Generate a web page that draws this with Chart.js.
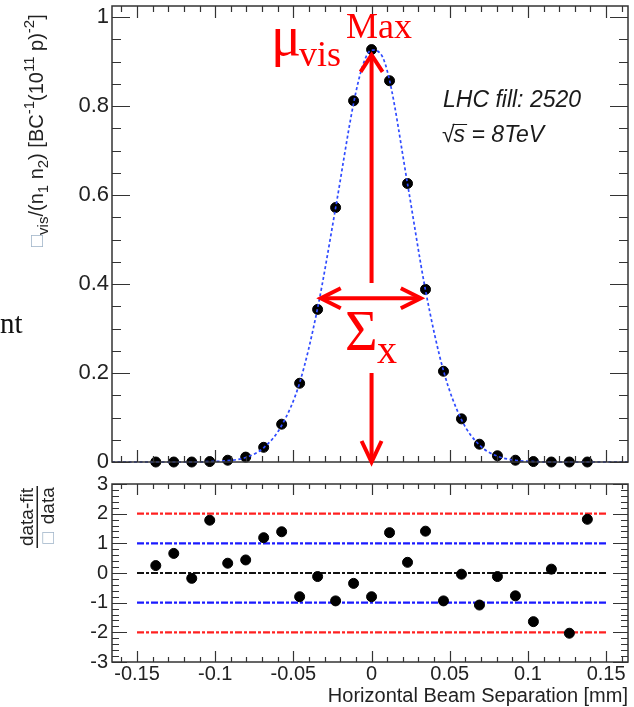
<!DOCTYPE html>
<html>
<head>
<meta charset="utf-8">
<script src="https://cdn.jsdelivr.net/npm/chart.js@4.4.0/dist/chart.umd.min.js"></script>
<style>
  html, body { margin: 0; padding: 0; background: #fff; }
  #wrap { position: relative; width: 634px; height: 707px; overflow: hidden; }
  #top { position: absolute; left: 0; top: 0; }
  #bot { position: absolute; left: 0; top: 475px; }
</style>
</head>
<body>
<div id="wrap">
  <canvas id="top" width="634" height="475"></canvas>
  <canvas id="bot" width="634" height="232"></canvas>
</div>
<script>
// scan points (horizontal beam separation, mm)
const sepX = [-0.138, -0.1265, -0.115, -0.1035, -0.092, -0.0805, -0.069, -0.0575, -0.046, -0.0345,
  -0.023, -0.0115, 0, 0.0115, 0.023, 0.0345, 0.046, 0.0575, 0.069, 0.0805, 0.092, 0.1035, 0.115, 0.1265, 0.138];
// specific visible rate per scan point
const rateY = [0, 0, 0, 0.001, 0.004, 0.011, 0.033, 0.085, 0.177, 0.343, 0.572, 0.812, 0.927,
  0.857, 0.626, 0.388, 0.204, 0.097, 0.040, 0.014, 0.004, 0.001, 0, 0, 0];
// fit curve
const fitX = [-0.166, -0.138, -0.115, -0.1035, -0.092, -0.0805, -0.069, -0.0575, -0.046, -0.0345, -0.023,
  -0.0115, -0.00575, 0, 0.00575, 0.0115, 0.023, 0.0345, 0.046, 0.0575, 0.069, 0.0805, 0.092, 0.1035, 0.115, 0.164];
const fitY = [0, 0, 0, 0.001, 0.003, 0.010, 0.032, 0.082, 0.178, 0.346, 0.571,
  0.806, 0.89, 0.926, 0.918, 0.858, 0.625, 0.386, 0.205, 0.095, 0.038, 0.013, 0.004, 0.001, 0, 0];
// residuals (data-fit)/sigma
const residY = [0.25, 0.66, -0.18, 1.78, 0.33, 0.44, 1.19, 1.39, -0.80, -0.12, -0.94, -0.35, -0.80,
  1.36, 0.36, 1.41, -0.94, -0.04, -1.08, -0.12, -0.77, -1.64, 0.13, -2.03, 1.81];
// reference lines in the residual pad
const refLevels = [2, 1, 0, -1, -2];
const refColors = ['#ff2020', '#1a1aff', '#111111', '#1a1aff', '#ff2020'];
const refSpan = [-0.15, 0.15];

const xTicks = [-0.15, -0.1, -0.05, 0, 0.05, 0.1, 0.15];
const yTicksTop = [0, 0.2, 0.4, 0.6, 0.8, 1];
const yTicksBot = [-3, -2, -1, 0, 1, 2, 3];

const SANS = "'Liberation Sans', Arial, sans-serif";
const SERIF = "'Liberation Serif', 'Times New Roman', serif";
const INK = '#222';
const RED = '#ff0000';

const range = (a, b, s) => {
  const out = [];
  const n = Math.round((b - a) / s);
  for (let i = 0; i <= n; i++) out.push(+(a + i * s).toFixed(4));
  return out;
};
const fmt = v => String(+v.toFixed(2));

// ROOT style frame with inward ticks on all four sides
const frameTicks = {
  id: 'frameTicks',
  afterDatasetsDraw(chart, args, o) {
    const { ctx, chartArea: a, scales: { x, y } } = chart;
    ctx.save();
    ctx.strokeStyle = '#333';
    ctx.lineWidth = 1.2;
    ctx.beginPath();
    const tx = (vals, len) => vals.forEach(v => {
      const p = Math.round(x.getPixelForValue(v)) + 0.5;
      if (p < a.left || p > a.right) return;
      ctx.moveTo(p, a.bottom); ctx.lineTo(p, a.bottom - len);
      ctx.moveTo(p, a.top); ctx.lineTo(p, a.top + len);
    });
    const ty = (vals, len) => vals.forEach(v => {
      const p = Math.round(y.getPixelForValue(v)) + 0.5;
      if (p < a.top - 1 || p > a.bottom + 1) return;
      ctx.moveTo(a.left, p); ctx.lineTo(a.left + len, p);
      ctx.moveTo(a.right, p); ctx.lineTo(a.right - len, p);
    });
    tx(o.xMinor, o.xLen[1]); tx(o.xMajor, o.xLen[0]);
    ty(o.yMinor, o.yLen[1]); ty(o.yMajor, o.yLen[0]);
    ctx.stroke();
    ctx.lineWidth = 1.5;
    ctx.strokeRect(a.left, a.top, a.right - a.left, a.bottom - a.top);
    ctx.restore();
  }
};

// draws a run of [text, shift, size, color] pieces along a rotated baseline
function rotatedRun(ctx, x, y, pieces) {
  ctx.save();
  ctx.translate(x, y);
  ctx.rotate(-Math.PI / 2);
  ctx.textBaseline = 'alphabetic';
  ctx.textAlign = 'left';
  let pos = 0;
  pieces.forEach(([t, dy, size, color]) => {
    ctx.font = size + 'px ' + SANS;
    ctx.fillStyle = color || INK;
    ctx.fillText(t, pos, dy);
    pos += ctx.measureText(t).width;
  });
  ctx.restore();
}

function arrowHead(ctx, tx, ty, dx, dy, len, half) {
  // tip at (tx,ty), pointing along (dx,dy)
  const px = -dy, py = dx;
  ctx.beginPath();
  ctx.moveTo(tx - dx * len + px * half, ty - dy * len + py * half);
  ctx.lineTo(tx, ty);
  ctx.lineTo(tx - dx * len - px * half, ty - dy * len - py * half);
  ctx.stroke();
}

const topNotes = {
  id: 'topNotes',
  afterDraw(chart) {
    const { ctx, scales: { x, y } } = chart;
    ctx.save();
    // red arrows
    ctx.strokeStyle = RED;
    ctx.lineWidth = 4;
    ctx.lineCap = 'butt';
    ctx.lineJoin = 'miter';
    const cx = x.getPixelForValue(0);
    const yTop = y.getPixelForValue(0.915);
    const yBot = y.getPixelForValue(0);
    ctx.beginPath();
    ctx.moveTo(cx, yTop + 2); ctx.lineTo(cx, 283);
    ctx.moveTo(cx, 373); ctx.lineTo(cx, yBot - 2);
    ctx.stroke();
    arrowHead(ctx, cx, yTop, 0, -1, 17, 11);
    arrowHead(ctx, cx, yBot, 0, 1, 21, 10);
    const hy = y.getPixelForValue(0.368);
    const hl = x.getPixelForValue(-0.0325), hr = x.getPixelForValue(0.0315);
    ctx.beginPath();
    ctx.moveTo(hl + 2, hy); ctx.lineTo(hr - 2, hy);
    ctx.stroke();
    arrowHead(ctx, hl, hy, -1, 0, 20, 10);
    arrowHead(ctx, hr, hy, 1, 0, 20, 10);

    // red labels
    ctx.fillStyle = RED;
    ctx.textBaseline = 'alphabetic';
    ctx.textAlign = 'left';
    ctx.font = '36px ' + SERIF;
    ctx.fillText('Max', 346, 38);
    ctx.font = '56px ' + SERIF;
    ctx.fillText('\u03bc', 271, 55);
    ctx.font = '36px ' + SERIF;
    ctx.fillText('vis', 299, 66);
    ctx.font = '56px ' + SERIF;
    ctx.fillText('\u03a3', 345, 350);
    ctx.font = '40px ' + SERIF;
    ctx.fillText('x', 377, 363);

    // fill info
    ctx.fillStyle = '#1a1a1a';
    ctx.font = 'italic 23px ' + SANS;
    ctx.fillText('LHC fill: 2520', 443, 107);
    ctx.font = '23px ' + SANS;
    ctx.fillText('\u221a', 442, 142);
    const rw = ctx.measureText('\u221a').width;
    ctx.font = 'italic 23px ' + SANS;
    ctx.fillText('s = 8TeV', 442 + rw - 1, 142);
    const sw = ctx.measureText('s').width;
    ctx.strokeStyle = '#1a1a1a';
    ctx.lineWidth = 1;
    ctx.beginPath();
    ctx.moveTo(442 + rw - 2, 124.5); ctx.lineTo(442 + rw + sw + 1, 124.5);
    ctx.stroke();

    // y axis title
    rotatedRun(ctx, 43, 247, [
      ['\u25a1', 0, 20, '#9fb4c8'], ['vis', 5, 15], ['/(n', 0, 20], ['1', 5, 15], [' n', 0, 20], ['2', 5, 15],
      [') [BC', 0, 20], ['-1', -9, 15], ['(10', 0, 20], ['11', -9, 15], [' p)', 0, 20], ['-2', -9, 15], [']', 0, 20]
    ]);

    // cut-off text from the surrounding page
    ctx.fillStyle = '#111';
    ctx.font = '29px ' + SERIF;
    ctx.fillText('nt', 0, 333);
    ctx.restore();
  }
};

const botNotes = {
  id: 'botNotes',
  afterDraw(chart) {
    const { ctx, chartArea: a } = chart;
    ctx.save();
    ctx.fillStyle = INK;
    ctx.font = '20px ' + SANS;
    ctx.textAlign = 'right';
    ctx.textBaseline = 'alphabetic';
    ctx.fillText('Horizontal Beam Separation [mm]', a.right, 227);
    // y title as a fraction
    ctx.save();
    ctx.rotate(-Math.PI / 2);
    ctx.textAlign = 'center';
    ctx.font = '19px ' + SANS;
    ctx.fillText('data-fit', -42, 33);
    ctx.fillText('\u00a0\u00a0data', -36, 54);
    ctx.fillStyle = '#9fb4c8';
    ctx.fillText('\u25a1', -63, 54);
    ctx.fillStyle = INK;
    ctx.fillRect(-73, 36.5, 62, 1.5);
    ctx.restore();
    ctx.restore();
  }
};

const baseFont = { family: SANS, size: 22 };

new Chart(document.getElementById('top'), {
  type: 'scatter',
  data: {
    datasets: [
      {
        label: 'fit',
        data: fitX.map((v, i) => ({ x: v, y: fitY[i] })),
        showLine: true,
        borderColor: '#2f4bff',
        borderWidth: 1.7,
        borderDash: [3, 2.5],
        pointRadius: 0,
        cubicInterpolationMode: 'monotone',
        clip: 10,
        order: 0
      },
      {
        label: 'data',
        data: sepX.map((v, i) => ({ x: v, y: rateY[i] })),
        backgroundColor: '#000',
        borderColor: '#000',
        pointRadius: 5,
        clip: 10,
        order: 1
      }
    ]
  },
  options: {
    responsive: false,
    animation: false,
    events: [],
    layout: { padding: { left: 0, right: 4, top: 6, bottom: 0 } },
    plugins: {
      legend: { display: false },
      tooltip: { enabled: false },
      frameTicks: {
        xMajor: xTicks, xMinor: range(-0.16, 0.16, 0.01), xLen: [12, 6],
        yMajor: yTicksTop, yMinor: range(0, 1, 0.05), yLen: [18, 9]
      }
    },
    scales: {
      x: {
        type: 'linear', min: -0.166, max: 0.164,
        grid: { display: false }, border: { display: false },
        ticks: { display: false },
        afterFit: s => { s.height = 13; s.paddingLeft = 0; s.paddingRight = 0; }
      },
      y: {
        min: 0, max: 1.025,
        grid: { display: false, drawTicks: false }, border: { display: false },
        afterBuildTicks: s => { s.ticks = yTicksTop.map(v => ({ value: v })); },
        ticks: { color: INK, font: baseFont, padding: 3, callback: fmt },
        afterFit: s => { s.width = 112; s.paddingTop = 0; s.paddingBottom = 0; }
      }
    }
  },
  plugins: [frameTicks, topNotes]
});

new Chart(document.getElementById('bot'), {
  type: 'scatter',
  data: {
    datasets: refLevels.map((lv, i) => ({
      label: 'ref' + lv,
      data: refSpan.map(v => ({ x: v, y: lv })),
      showLine: true,
      borderColor: refColors[i],
      borderWidth: 2.2,
      borderDash: [7, 2, 3, 2],
      pointRadius: 0,
      order: 1
    })).concat([{
      label: 'residual',
      data: sepX.map((v, i) => ({ x: v, y: residY[i] })),
      backgroundColor: '#000',
      borderColor: '#000',
      pointRadius: 5,
      clip: 10,
      order: 0
    }])
  },
  options: {
    responsive: false,
    animation: false,
    events: [],
    layout: { padding: { left: 0, right: 4, top: 9, bottom: 0 } },
    plugins: {
      legend: { display: false },
      tooltip: { enabled: false },
      frameTicks: {
        xMajor: xTicks, xMinor: range(-0.16, 0.16, 0.01), xLen: [11, 5],
        yMajor: yTicksBot, yMinor: range(-3, 3, 0.2), yLen: [15, 7]
      }
    },
    scales: {
      x: {
        type: 'linear', min: -0.166, max: 0.164,
        grid: { display: false, drawTicks: false }, border: { display: false },
        afterBuildTicks: s => { s.ticks = xTicks.map(v => ({ value: v })); },
        ticks: { color: INK, font: { family: SANS, size: 20 }, padding: 0, maxRotation: 0, autoSkip: false, callback: fmt },
        afterFit: s => { s.height = 45; s.paddingLeft = 0; s.paddingRight = 0; }
      },
      y: {
        min: -3, max: 3,
        grid: { display: false, drawTicks: false }, border: { display: false },
        afterBuildTicks: s => { s.ticks = yTicksBot.map(v => ({ value: v })); },
        ticks: { color: INK, font: { family: SANS, size: 20 }, padding: 4, callback: fmt },
        afterFit: s => { s.width = 112; s.paddingTop = 0; s.paddingBottom = 0; }
      }
    }
  },
  plugins: [frameTicks, botNotes]
});
</script>
</body>
</html>
